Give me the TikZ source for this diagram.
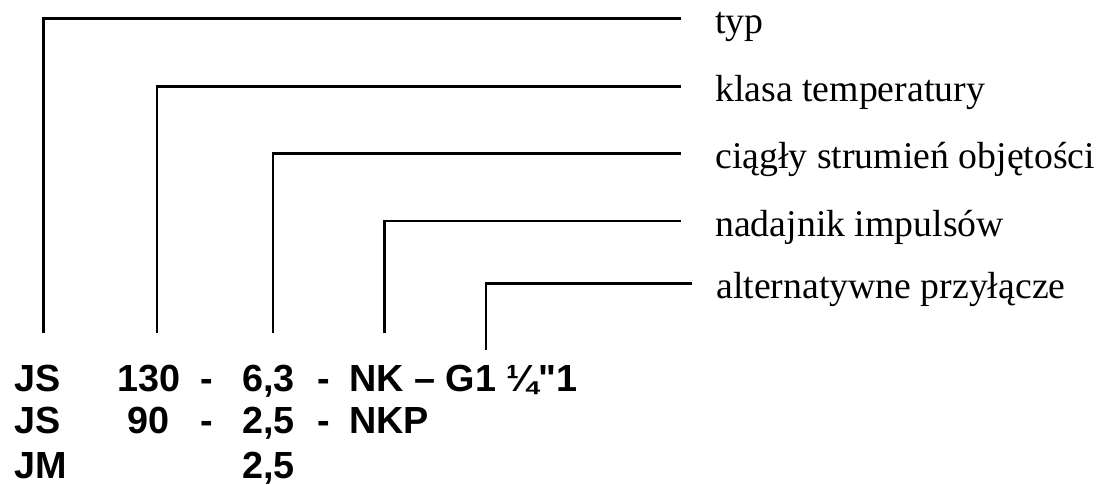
\documentclass[tikz,border=0pt]{standalone}
\usepackage{fontspec}
\setmainfont{Liberation Serif}
\setsansfont{Liberation Sans}[Ligatures=TeXOff]
\usetikzlibrary{positioning}

\begin{document}
\begin{tikzpicture}
  [x=0.02cm, y=-0.02cm, line width=1.5pt,
   lbl/.style={anchor=west, inner xsep=0.66cm, inner ysep=0pt,
     text height=0.8cm, text depth=0.2cm, font=\fontsize{21.5}{26}\selectfont},
   code/.style={anchor=base west, inner sep=0pt,
     font=\sffamily\bfseries\fontsize{21.5}{26}\selectfont}]
  \useasboundingbox (0,0) rectangle (1103,484);

  \node (typ) [lbl] at (681,18.3) {typ};
  \node (klasa) [lbl] at (681,86.7) {klasa temperatury};
  \node (ciagly) [lbl] at (681,153.3) {ciągły strumień objętości};
  \node (nadajnik) [lbl] at (681,221) {nadajnik impulsów};
  \node (alt) [lbl, inner xsep=0.46cm] at (692,283.3) {alternatywne przyłącze};

  \node (JSa) [code] at (13,391.5) {JS};
  \node (n130) [code] at (116,391.5) {130};
  \node (da) [code] at (199,391.5) {-};
  \node (n63) [code] at (241,391.5) {6,3};
  \node (db) [code] at (316,391.5) {-};
  \node (NK) [code] at (348,391.5) {NK – G1 ¼"1};

  \node (JSb) [code] at (13,433.3) {JS};
  \node (n90) [code] at (126,433.3) {90};
  \node (dc) [code] at (199,433.3) {-};
  \node (n25a) [code] at (241,433.3) {2,5};
  \node (dd) [code] at (316,433.3) {-};
  \node (NKP) [code] at (348,433.3) {NKP};

  \node (JM) [code] at (13,478) {JM};
  \node (n25b) [code] at (241,478) {2,5};

  \coordinate (c1) at (43.5,333);
  \coordinate (c2) at (157,333);
  \coordinate (c3) at (273,333);
  \coordinate (c4) at (384.5,333);
  \coordinate (c5) at (486,350);

  \draw (c1) |- (typ.west);
  \draw (c2) |- (klasa.west);
  \draw (c3) |- (ciagly.west);
  \draw (c4) |- (nadajnik.west);
  \draw (c5) |- (alt.west);
\end{tikzpicture}
\end{document}
